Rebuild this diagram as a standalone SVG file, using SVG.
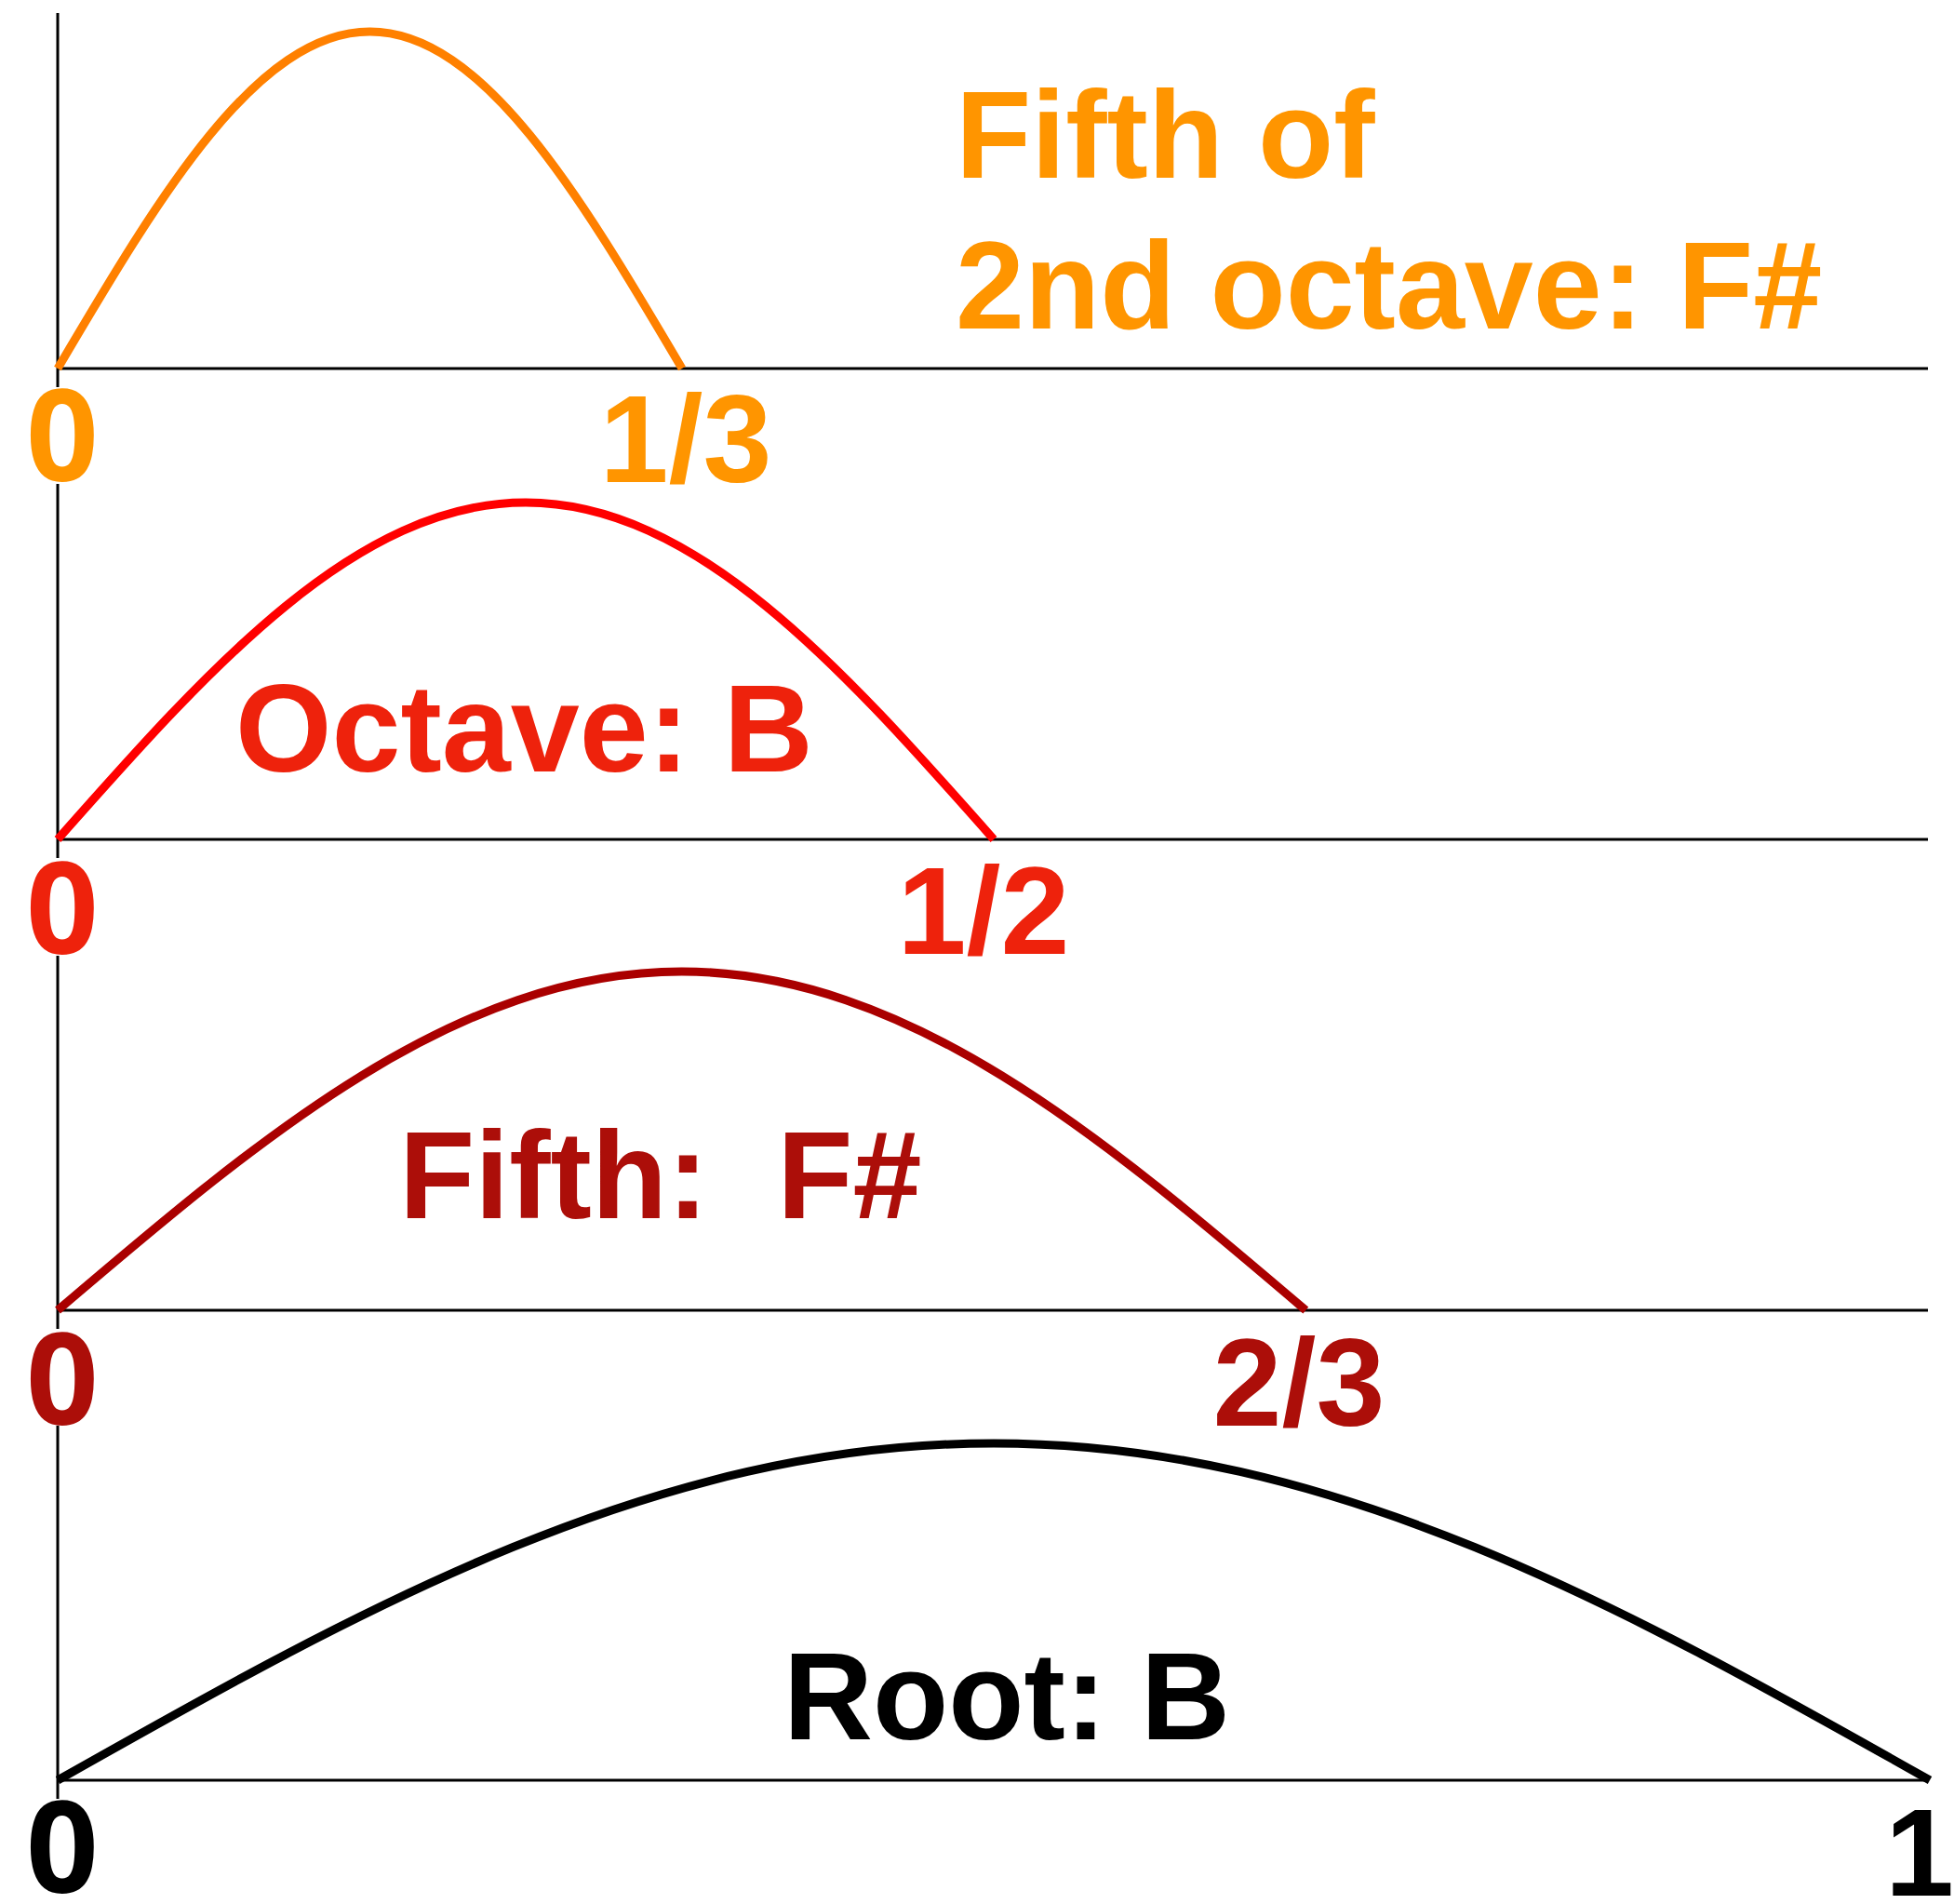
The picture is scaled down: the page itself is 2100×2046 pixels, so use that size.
<svg xmlns="http://www.w3.org/2000/svg" width="2100" height="2046" viewBox="0 0 2100 2046">
<style>
.axis{stroke:#000;stroke-width:3;fill:none}
.wave{fill:none;stroke-width:9;stroke-linecap:butt}
.lbl{font-family:"Liberation Sans",Arial,sans-serif;font-weight:bold;font-size:133px}
.zero{font-family:"Open Sans","Noto Sans",sans-serif;font-weight:bold;font-size:136px;text-anchor:middle}
.tick{font-family:"Liberation Sans",Arial,sans-serif;font-weight:bold;font-size:133px;text-anchor:middle}
.c1{fill:#FF9500}.c2{fill:#EE220C}.c3{fill:#AC0E09}.c4{fill:#000}
</style>
<rect width="2100" height="2046" fill="#fff"/>
<g id="axes">
<line class="axis" x1="62" y1="14" x2="62" y2="416"/>
<line class="axis" x1="62" y1="396" x2="2072" y2="396"/>
<line class="axis" x1="62" y1="520" x2="62" y2="922"/>
<line class="axis" x1="62" y1="902" x2="2072" y2="902"/>
<line class="axis" x1="62" y1="1027" x2="62" y2="1428"/>
<line class="axis" x1="62" y1="1408" x2="2072" y2="1408"/>
<line class="axis" x1="62" y1="1532" x2="62" y2="1933"/>
<line class="axis" x1="62" y1="1913" x2="2072" y2="1913"/>
</g>
<g id="wave-fifth-2nd-octave">
<path class="wave" stroke="#FF8000" d="M62,396 C171.4,210.5 276.1,34 397.5,34 C518.9,34 623.6,210.5 733,396"/>
<text class="lbl c1" x="1027" y="191">Fifth of</text>
<text class="lbl c1" x="1027" y="353">2nd octave: F#</text>
<text class="zero c1" x="67" y="517">0</text>
<text class="tick c1" x="737" y="518">1/3</text>
</g>
<g id="wave-octave">
<path class="wave" stroke="#FF0000" d="M62,902 C226,716.5 383,540 565,540 C747,540 904,716.5 1068,902"/>
<text class="lbl c2" x="253" y="829">Octave: B</text>
<text class="zero c2" x="67" y="1025">0</text>
<text class="tick c2" x="1057" y="1025">1/2</text>
</g>
<g id="wave-fifth">
<path class="wave" stroke="#AA0000" d="M62,1408 C280.7,1221.5 490,1044 732.7,1044 C975.4,1044 1184.6,1221.5 1403.3,1408"/>
<text class="lbl c3" x="429" y="1309" xml:space="preserve">Fifth:  F#</text>
<text class="zero c3" x="67" y="1531">0</text>
<text class="tick c3" x="1396" y="1532">2/3</text>
</g>
<g id="wave-root">
<path class="wave" stroke="#000000" d="M62,1913 C390.1,1727.5 703.9,1551 1068,1551 C1432.1,1551 1745.9,1727.5 2074,1913"/>
<text class="lbl c4" x="842" y="1869">Root: B</text>
<text class="zero c4" x="67" y="2034">0</text>
<text class="lbl c4" x="2100" y="2037" text-anchor="end">1</text>
</g>
</svg>
